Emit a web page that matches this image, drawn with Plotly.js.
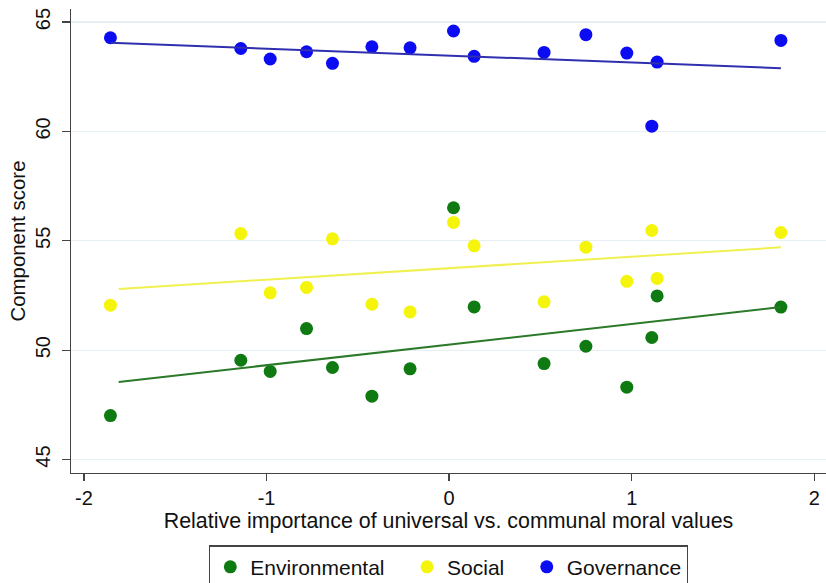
<!DOCTYPE html>
<html>
<head>
<meta charset="utf-8">
<script src="https://cdn.plot.ly/plotly-3.0.1.min.js"></script>
<style>html,body{margin:0;padding:0;background:#fff;}#chart{width:826px;height:583px;}</style>
</head>
<body>
<div id="chart"></div>
<script>
// Data
var xVals = [-1.855, -1.141, -0.980, -0.781, -0.639, -0.423, -0.214, 0.024, 0.137, 0.520, 0.749, 0.973, 1.139, 1.110, 1.817];
var environmental = [47.01, 49.54, 49.03, 50.99, 49.21, 47.90, 49.15, 56.51, 51.98, 49.39, 50.18, 48.31, 52.48, 50.58, 51.97];
var social = [52.06, 55.33, 52.62, 52.87, 55.09, 52.10, 51.75, 55.84, 54.77, 52.21, 54.71, 53.15, 53.28, 55.47, 55.38];
var governance = [64.28, 63.79, 63.31, 63.64, 63.11, 63.87, 63.82, 64.59, 63.43, 63.61, 64.42, 63.58, 63.17, 60.24, 64.16];

// Fitted line endpoints
var envFitX = [-1.81, 1.817];
var envFitY = [48.55, 51.97];
var socFitX = [-1.81, 1.817];
var socFitY = [52.80, 54.70];
var govFitX = [-1.855, 1.817];
var govFitY = [64.05, 62.89];

var seriesNames = ['Environmental', 'Social', 'Governance'];
var xTicks = [-2, -1, 0, 1, 2];
var yTicks = [45, 50, 55, 60, 65];

var cGreen = '#0f7a12', cYellow = '#f5f50c', cBlue = '#0c0cf2';
var FONT = '"Liberation Sans", Arial, Helvetica, sans-serif';
var PAD = '\u00a0\u00a0\u00a0';

var traces = [
  {x: xVals, y: environmental, type: 'scatter', mode: 'markers', name: seriesNames[0] + PAD,
   marker: {color: cGreen, size: 13}},
  {x: xVals, y: social, type: 'scatter', mode: 'markers', name: seriesNames[1] + PAD,
   marker: {color: cYellow, size: 13}},
  {x: xVals, y: governance, type: 'scatter', mode: 'markers', name: seriesNames[2],
   marker: {color: cBlue, size: 13}},
  {x: envFitX, y: envFitY, type: 'scatter', mode: 'lines', showlegend: false,
   line: {color: '#2a7a2a', width: 2}},
  {x: socFitX, y: socFitY, type: 'scatter', mode: 'lines', showlegend: false,
   line: {color: '#f0f050', width: 2}},
  {x: govFitX, y: govFitY, type: 'scatter', mode: 'lines', showlegend: false,
   line: {color: '#2f2fb0', width: 2}}
];

var layout = {
  width: 826, height: 583,
  margin: {l: 71, r: 0, t: 9, b: 110, pad: 0, autoexpand: false},
  paper_bgcolor: '#ffffff', plot_bgcolor: '#ffffff',
  font: {family: FONT, color: '#111111', size: 20},
  showlegend: true,
  xaxis: {
    range: [-2.071, 2.064], tickvals: xTicks, ticktext: xTicks.map(String),
    showgrid: false, zeroline: false, showline: true, linecolor: '#444444', linewidth: 1.3,
    ticks: 'outside', ticklen: 7, tickcolor: '#444444', tickwidth: 1.3,
    tickfont: {family: FONT, size: 20, color: '#111111'},
    title: {text: 'Relative importance of universal vs. communal moral values',
            font: {family: FONT, size: 21.4, color: '#111111'}, standoff: 4},
    automargin: false
  },
  yaxis: {
    range: [44.387, 65.595], tickvals: yTicks, ticktext: yTicks.map(String),
    showgrid: true, gridcolor: '#e6eff3', gridwidth: 1.3,
    zeroline: false, showline: true, linecolor: '#444444', linewidth: 1.3,
    ticks: 'outside', ticklen: 8, tickcolor: '#444444', tickwidth: 1.3,
    tickangle: -90, ticklabelstandoff: 4,
    tickfont: {family: FONT, size: 20, color: '#111111'},
    title: {text: 'Component score', font: {family: FONT, size: 20.4, color: '#111111'}, standoff: 0},
    automargin: false
  },
  legend: {
    orientation: 'h', x: 0.5, xanchor: 'center', y: -0.156, yanchor: 'top',
    bordercolor: '#444444', borderwidth: 1.3, bgcolor: '#ffffff',
    font: {family: FONT, size: 21, color: '#111111'},
    traceorder: 'normal'
  }
};

Plotly.newPlot('chart', traces, layout, {displayModeBar: false, staticPlot: true});
</script>
</body>
</html>
